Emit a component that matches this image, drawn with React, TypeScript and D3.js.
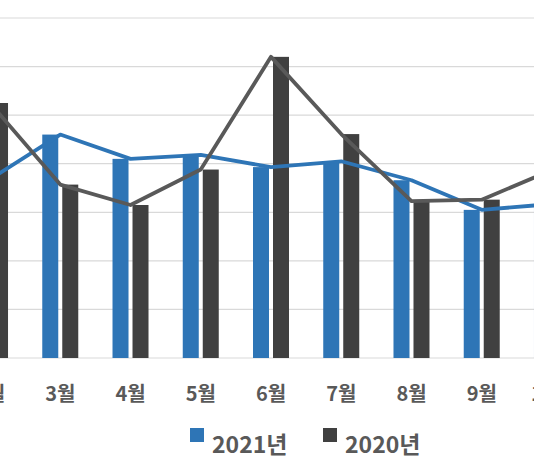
import * as d3 from "d3";
import React, { useRef, useEffect } from "react";

// visible months (the picture is a crop of a wider chart)
const months = ["2월", "3월", "4월", "5월", "6월", "7월", "8월", "9월", "10월"];
const series = ["2021년", "2020년"];
const values2021 = [368, 460, 410, 418, 393, 405, 366, 305, 317];
const values2020 = [525, 357, 315, 388, 620, 461, 323, 326, 387];
const yTicks = [0, 100, 200, 300, 400, 500, 600, 700];
const colors = ["#2E75B6", "#404040"];
const lineColors = ["#2E75B6", "#595959"];

const App: React.FC = () => {
  const svgRef = useRef<SVGSVGElement>(null);

  useEffect(() => {
    document.body.style.margin = "0";
    const svg = d3.select(svgRef.current);
    svg.selectAll("*").remove();

    const width = 534;
    const height = 462;

    const x0 = d3.scaleBand<string>()
      .domain(months)
      .range([-45.1, 587.1])
      .padding(0);

    const x1 = d3.scaleBand<string>()
      .domain(series)
      .range([-18, 18])
      .paddingInner(0.2);

    const y = d3.scaleLinear()
      .domain([0, 700])
      .range([358, 18]);

    const cx = (m: string) => (x0(m) ?? 0) + x0.bandwidth() / 2;

    svg.attr("width", width)
      .attr("height", height)
      .attr("viewBox", `0 0 ${width} ${height}`)
      .style("display", "block")
      .style("background", "#fff");

    // gridlines
    svg.append("g")
      .selectAll("line")
      .data(yTicks)
      .join("line")
      .attr("x1", 0)
      .attr("x2", width)
      .attr("y1", d => y(d))
      .attr("y2", d => y(d))
      .attr("stroke", "#D9D9D9")
      .attr("stroke-width", 1.2);

    const table = [values2021, values2020];

    // bars
    table.forEach((vals, si) => {
      svg.append("g")
        .attr("fill", colors[si])
        .selectAll("rect")
        .data(vals)
        .join("rect")
        .attr("x", (d, i) => cx(months[i]) + (x1(series[si]) ?? 0))
        .attr("width", x1.bandwidth())
        .attr("y", d => y(d))
        .attr("height", d => y(0) - y(d));
    });

    // lines
    table.forEach((vals, si) => {
      const line = d3.line<number>()
        .x((d, i) => cx(months[i]))
        .y(d => y(d));
      svg.append("path")
        .datum(vals)
        .attr("fill", "none")
        .attr("stroke", lineColors[si])
        .attr("stroke-width", 3.8)
        .attr("stroke-linejoin", "round")
        .attr("stroke-linecap", "round")
        .attr("d", line);
    });

    // x axis labels
    svg.append("g")
      .attr("font-family", "'Noto Sans CJK KR', 'Noto Sans', sans-serif")
      .attr("font-size", 20)
      .attr("font-weight", "bold")
      .attr("fill", "#595959")
      .attr("text-anchor", "middle")
      .selectAll("text")
      .data(months)
      .join("text")
      .attr("x", d => cx(d))
      .attr("y", 401)
      .text(d => d);

    // legend
    const legendX = [190, 323];
    const legend = svg.append("g")
      .attr("font-family", "'Noto Sans CJK KR', 'Noto Sans', sans-serif")
      .attr("font-size", 23)
      .attr("font-weight", "bold")
      .attr("fill", "#595959");
    series.forEach((s, i) => {
      legend.append("rect")
        .attr("x", legendX[i])
        .attr("y", 428)
        .attr("width", 14)
        .attr("height", 14)
        .attr("fill", colors[i]);
      legend.append("text")
        .attr("x", legendX[i] + 22)
        .attr("y", 453)
        .text(s);
    });
  }, []);

  return <svg ref={svgRef}></svg>;
};

export default App;
